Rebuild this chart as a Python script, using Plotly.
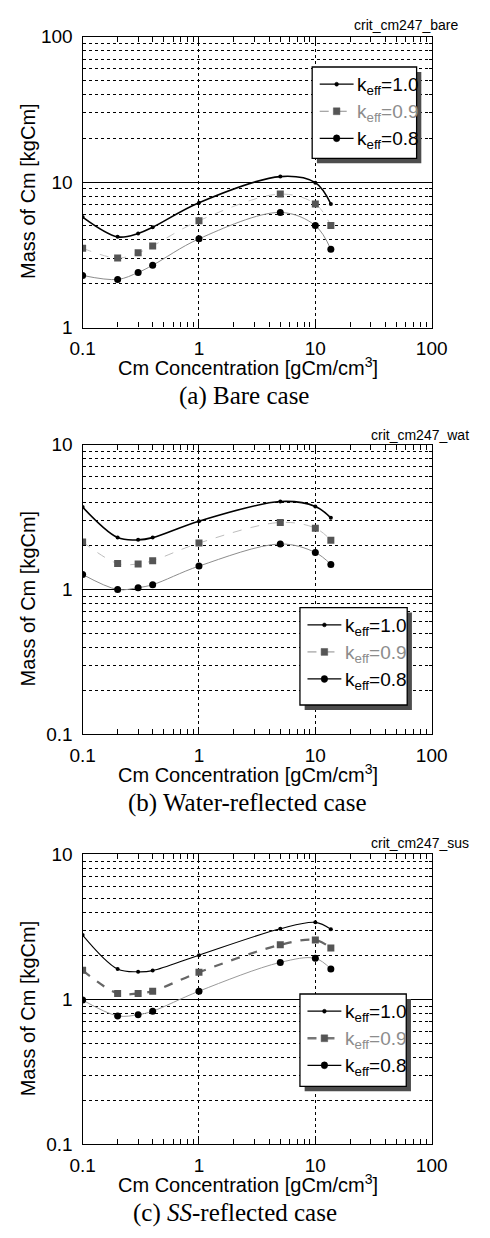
import plotly.graph_objects as go

# ---------------- data ----------------
conc = [0.1, 0.2, 0.3, 0.4, 1.0, 5.0, 10.0, 13.6]

bare_k10 = [5.74, 4.20, 4.43, 4.89, 7.21, 10.9, 9.90, 7.07]
bare_k09 = [3.51, 3.00, 3.26, 3.64, 5.42, 8.26, 7.07, 5.02]
bare_k08 = [2.28, 2.14, 2.39, 2.68, 4.07, 6.18, 5.02, 3.45]

wat_k10 = [3.70, 2.28, 2.20, 2.28, 2.96, 4.04, 3.74, 3.12]
wat_k09 = [2.13, 1.51, 1.50, 1.58, 2.09, 2.90, 2.65, 2.19]
wat_k08 = [1.27, 1.00, 1.03, 1.08, 1.45, 2.06, 1.80, 1.49]

sus_k10 = [2.78, 1.62, 1.55, 1.58, 2.02, 3.07, 3.40, 3.05]
sus_k09 = [1.59, 1.10, 1.10, 1.14, 1.54, 2.38, 2.57, 2.26]
sus_k08 = [0.99, 0.77, 0.785, 0.83, 1.14, 1.80, 1.92, 1.62]

series_names = ["k<sub>eff</sub>=1.0", "k<sub>eff</sub>=0.9", "k<sub>eff</sub>=0.8"]
series_text_colors = ["#000000", "#8c8c8c", "#000000"]
panel_tags = ["crit_cm247_bare", "crit_cm247_wat", "crit_cm247_sus"]
captions = ["(a) Bare case", "(b) Water-reflected case", "(c) <i>SS</i>-reflected case"]
x_tickvals = [0.1, 1, 10, 100]
x_ticktext = ["0.1", "1", "10", "100"]
y_tickvals = [[1, 10, 100], [0.1, 1, 10], [0.1, 1, 10]]
y_ticktext = [["1", "10", "100"], ["0.1", "1", "10"], ["0.1", "1", "10"]]
y_ranges = [[0, 2], [-1, 1], [-1, 1]]

panels = [
    (bare_k10, bare_k09, bare_k08),
    (wat_k10, wat_k09, wat_k08),
    (sus_k10, sus_k09, sus_k08),
]

# ---------------- layout geometry (pixels) ----------------
W, H = 490, 1238
PX_L, PX_R = 74, 445
plot_tb = [(27, 323), (442, 737), (859, 1154)]
legend_boxes = [(318, 58, 429, 151), (305, 608, 419, 707), (305, 1001, 418, 1095)]
legend_row_off = [17.5, 45.0, 72.5]
tag_pos = [(475, 15), (487, 432), (487, 847)]
caption_x = [245, 249, 236]


def px(x):
    return x / W


def py(y):
    return 1 - y / H


# styles per panel: (color, width, dash)
curve_styles = [
    [("#000000", 1.6, "solid"), ("#c4c4c4", 1.0, "dash"), ("#8c8c8c", 1.0, "solid")],
    [("#000000", 1.6, "solid"), ("#bdbdbd", 1.0, "dash"), ("#8c8c8c", 1.0, "solid")],
    [("#000000", 1.1, "solid"), ("#666666", 2.2, "dash"), ("#9a9a9a", 1.0, "solid")],
]
legend_line = [
    [("#000000", 1.2, "solid"), ("#8c8c8c", 1.0, "dash"), ("#000000", 1.2, "solid")],
    [("#000000", 1.2, "solid"), ("#8c8c8c", 1.0, "dash"), ("#000000", 1.2, "solid")],
    [("#000000", 1.2, "solid"), ("#777777", 2.4, "dash"), ("#000000", 1.2, "solid")],
]
marker_styles = [
    dict(symbol="circle", size=4, color="#000000"),
    dict(symbol="square", size=7, color="#555555"),
    dict(symbol="circle", size=7, color="#000000"),
]
legend_marker = [("circle", 2.0, "#000000"), ("rect", 3.5, "#555555"), ("circle", 3.5, "#000000")]

fig = go.Figure()
FONT = "Liberation Sans, Arial, sans-serif"
SERIF = "Liberation Serif, Times New Roman, serif"

for p, vals in enumerate(panels):
    xa = "x" if p == 0 else f"x{p+1}"
    ya = "y" if p == 0 else f"y{p+1}"
    for s, yv in enumerate(vals):
        c, w, d = curve_styles[p][s]
        fig.add_trace(go.Scatter(x=conc, y=yv, mode="lines",
                                 line=dict(color=c, width=w, dash=d, shape="spline", smoothing=1.0),
                                 xaxis=xa, yaxis=ya, showlegend=False, hoverinfo="skip"))
    for s, yv in enumerate(vals):
        fig.add_trace(go.Scatter(x=conc, y=yv, mode="markers", name=series_names[s],
                                 marker=marker_styles[s],
                                 xaxis=xa, yaxis=ya, showlegend=False))
    # invisible trace for the top axis (minor ticks on top edge)
    fig.add_trace(go.Scatter(x=[None], y=[None], xaxis=f"x{p+4}", yaxis=ya,
                             showlegend=False, hoverinfo="skip"))

layout = dict(
    width=W, height=H,
    margin=dict(l=0, r=0, t=0, b=0),
    paper_bgcolor="white", plot_bgcolor="white",
    font=dict(family=FONT, size=19, color="black"),
    showlegend=False,
)

x_minor = [m * 10 ** e for e in (-1, 0, 1) for m in range(2, 10)]

annotations = []
shapes = []
for p in range(3):
    top, bot = plot_tb[p]
    sfx = "" if p == 0 else str(p + 1)
    y_minor = [m * 10 ** e for e in range(int(y_ranges[p][0]), int(y_ranges[p][1])) for m in range(2, 10)]
    layout["xaxis" + sfx] = dict(
        type="log", range=[-1, 2], domain=[px(PX_L), px(PX_R)],
        anchor="y" + sfx,
        tickmode="array", tickvals=x_tickvals, ticktext=x_ticktext,
        ticks="inside", ticklen=7, tickcolor="black", tickwidth=1,
        showline=True, linecolor="black", linewidth=1.3, mirror=True,
        showgrid=True, gridcolor="black", gridwidth=1, griddash="dot",
        zeroline=False,
        tickfont=dict(size=19, family=FONT),
        ticklabelstandoff=4,
        minor=dict(tickmode="array", tickvals=x_minor, ticks="inside", ticklen=5,
                   tickcolor="black", tickwidth=1, showgrid=False),
    )
    layout[f"xaxis{p+4}"] = dict(
        type="log", range=[-1, 2], overlaying="x" + sfx, side="top",
        anchor="y" + sfx, showticklabels=False,
        tickmode="array", tickvals=x_tickvals,
        ticks="inside", ticklen=7, tickcolor="black",
        showline=False, showgrid=False, zeroline=False,
        minor=dict(tickmode="array", tickvals=x_minor, ticks="inside", ticklen=5,
                   tickcolor="black", tickwidth=1, showgrid=False),
    )
    layout["yaxis" + sfx] = dict(
        type="log", range=y_ranges[p], domain=[py(bot), py(top)],
        anchor="x" + sfx,
        tickmode="array", tickvals=y_tickvals[p], ticktext=y_ticktext[p],
        ticks="inside", ticklen=5, tickcolor="black",
        showline=True, linecolor="black", linewidth=1.3, mirror="ticks",
        showgrid=True, gridcolor="black", gridwidth=1.2,
        zeroline=False,
        tickfont=dict(size=19, family=FONT),
        ticklabelstandoff=5,
        minor=dict(tickmode="array", tickvals=y_minor, ticks="inside", ticklen=3,
                   tickcolor="black", showgrid=True, gridcolor="black", gridwidth=1, griddash="dot"),
    )

    # ---- legend drawn as a framed box with drop shadow ----
    lx0, ly0, lx1, ly1 = legend_boxes[p]
    shapes.append(dict(type="rect", xref="paper", yref="paper",
                       x0=px(lx0 + 5), x1=px(lx1 + 5), y0=py(ly1 + 5), y1=py(ly0 + 5),
                       fillcolor="#4d4d4d", line=dict(width=0), layer="above"))
    shapes.append(dict(type="rect", xref="paper", yref="paper",
                       x0=px(lx0), x1=px(lx1), y0=py(ly1), y1=py(ly0),
                       fillcolor="white", line=dict(color="black", width=1.3), layer="above"))
    for s in range(3):
        cy = ly0 + legend_row_off[s]
        c, w, d = legend_line[p][s]
        shapes.append(dict(type="line", xref="paper", yref="paper",
                           x0=px(lx0 + 8), x1=px(lx0 + 44), y0=py(cy), y1=py(cy),
                           line=dict(color=c, width=w, dash=d), layer="above"))
        mk, r, mc = legend_marker[s]
        mx = lx0 + 26
        shapes.append(dict(type=mk, xref="paper", yref="paper",
                           x0=px(mx - r), x1=px(mx + r), y0=py(cy + r), y1=py(cy - r),
                           fillcolor=mc, line=dict(color=mc, width=0.5), layer="above"))
        annotations.append(dict(text=series_names[s], xref="paper", yref="paper",
                                x=px(lx0 + 46), y=py(cy + 2), showarrow=False,
                                xanchor="left", yanchor="middle",
                                font=dict(size=19, family=FONT, color=series_text_colors[s])))

    # axis titles and captions
    annotations.append(dict(text="Mass of Cm [kgCm]", xref="paper", yref="paper",
                            x=px(16), y=py((top + bot) / 2 + 9), textangle=-90,
                            showarrow=False, xanchor="center", yanchor="middle",
                            font=dict(size=20, family=FONT)))
    annotations.append(dict(text="Cm Concentration [gCm/cm<sup>3</sup>]", xref="paper", yref="paper",
                            x=px(250), y=py(bot + 40), showarrow=False,
                            xanchor="center", yanchor="middle",
                            font=dict(size=20, family=FONT)))
    annotations.append(dict(text=captions[p], xref="paper", yref="paper",
                            x=px(caption_x[p]), y=py(bot + 70), showarrow=False,
                            xanchor="center", yanchor="middle",
                            font=dict(size=25, family=SERIF)))
    tx, ty = tag_pos[p]
    annotations.append(dict(text=panel_tags[p], xref="paper", yref="paper",
                            x=px(tx), y=py(ty), showarrow=False,
                            xanchor="right", yanchor="middle",
                            font=dict(size=14, family=FONT)))

layout["annotations"] = annotations
layout["shapes"] = shapes
fig.update_layout(**layout)

fig.write_html("out.html")
